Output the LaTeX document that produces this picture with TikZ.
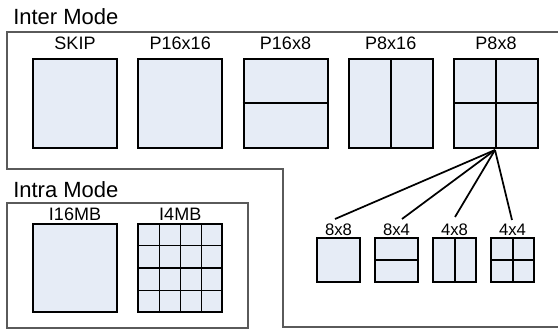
\documentclass[tikz,border=0pt]{standalone}
\usepackage{fontspec}
\setmainfont{Liberation Sans}
\definecolor{cellfill}{RGB}{230,236,246}
\definecolor{frame}{RGB}{90,90,90}
\begin{document}
\begin{tikzpicture}[x=0.75pt,y=-0.75pt,
  bigsq/.style={draw=black,fill=cellfill,line width=1.5pt,minimum width=63pt,minimum height=66.5pt,inner sep=0pt},
  smallsq/.style={draw=black,fill=cellfill,line width=1.5pt,minimum width=32.25pt,minimum height=33pt,inner sep=0pt},
  div/.style={draw=black,line width=1.5pt},
  thin/.style={draw=black,line width=1pt},
  title/.style={font=\fontsize{16.5pt}{18pt}\selectfont,anchor=west,inner sep=0pt},
  lab/.style={font=\fontsize{13.5pt}{15pt}\selectfont,inner sep=0pt},
  slab/.style={font=\fontsize{12.5pt}{14pt}\selectfont,inner sep=0pt},
  conn/.style={draw=black,line width=1.3pt},
  outline/.style={draw=frame,line width=1pt}]
\path[use as bounding box] (0,0) rectangle (558,331);
% outlines
\draw[outline] (558,32) -- (7,32) -- (7,169) -- (283,169) -- (283,327) -- (558,327);
\draw[outline] (7,203) rectangle (248,328);
% titles
\node[title] (tinter) at (13,17) {Inter Mode};
\node[title] (tintra) at (13,190) {Intra Mode};
% inter squares
\node[bigsq] (skip) at (75,103.5) {};
\node[bigsq] (p1616) at (180.25,103.5) {};
\node[bigsq] (p168) at (285.5,103.5) {};
\node[bigsq] (p816) at (390.75,103.5) {};
\node[bigsq] (p88) at (496,103.5) {};
\draw[div] (p168.west) -- (p168.east);
\draw[div] (p816.north) -- (p816.south);
\draw[div] (p88.west) -- (p88.east);
\draw[div] (p88.north) -- (p88.south);
\node[lab] (lskip) at (75,43) {SKIP};
\node[lab] (l1616) at (180.25,43) {P16x16};
\node[lab] (l168) at (285.5,43) {P16x8};
\node[lab] (l816) at (390.75,43) {P8x16};
\node[lab] (l88) at (496,43) {P8x8};
% intra squares
\node[bigsq] (i16) at (75,268) {};
\node[bigsq] (i4) at (180.25,268) {};
\foreach \xx in {159.25,180.25,201.25}{
  \draw[thin] (\xx,223.5) -- (\xx,312.5);
}
\foreach \yy in {245.75,268,290.25}{
  \draw[thin] (138.25,\yy) -- (222.25,\yy);
}
\node[bigsq,fill=none] (i4b) at (180.25,268) {};
\node[lab] (li16) at (75,214) {I16MB};
\node[lab] (li4) at (180.25,214) {I4MB};
% sub-partitions
\node[smallsq] (s88) at (338.5,260) {};
\node[smallsq] (s84) at (396.5,260) {};
\node[smallsq] (s48) at (454.5,260) {};
\node[smallsq] (s44) at (512.5,260) {};
\draw[div] (s84.west) -- (s84.east);
\draw[div] (s48.north) -- (s48.south);
\draw[div] (s44.west) -- (s44.east);
\draw[div] (s44.north) -- (s44.south);
\node[slab] (ls88) at (338.5,229.5) {8x8};
\node[slab] (ls84) at (396.5,229.5) {8x4};
\node[slab] (ls48) at (454.5,229.5) {4x8};
\node[slab] (ls44) at (512.5,229.5) {4x4};
% connectors
\coordinate (apex) at (495,150);
\coordinate (e1) at (335,219);
\coordinate (e2) at (402,219);
\coordinate (e3) at (455,217);
\coordinate (e4) at (512,220);
\draw[conn] (apex) -- (e1);
\draw[conn] (apex) -- (e2);
\draw[conn] (apex) -- (e3);
\draw[conn] (apex) -- (e4);
\end{tikzpicture}
\end{document}
